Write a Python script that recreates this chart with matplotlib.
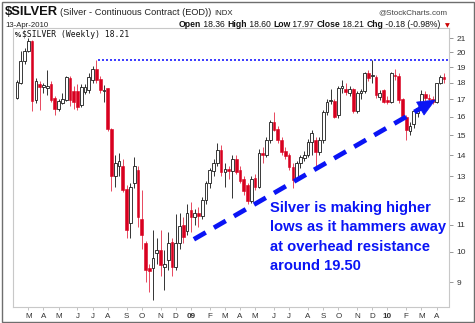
import numpy as np
import pandas as pd
import matplotlib
matplotlib.use('Agg')
import matplotlib.pyplot as plt
from matplotlib.patches import Rectangle, Polygon
from matplotlib.transforms import IdentityTransform

plt.rcParams['font.family'] = ['Liberation Sans', 'DejaVu Sans']

# ---------------- data (weekly OHLC, $SILVER) ----------------
week_fridays = pd.date_range('2008-02-15', periods=114, freq='W-FRI')

opens = [17.10, 18.00, 19.40, 20.10, 20.80, 16.95, 17.90, 17.75, 17.70, 17.95,
         17.10, 16.45, 16.80, 16.95, 18.30, 17.50, 17.50, 16.65, 17.45, 17.55,
         18.15, 18.90, 18.25, 17.50, 17.65, 15.35, 13.00, 13.50, 13.50, 12.45,
         11.05, 12.70, 13.30, 11.20, 10.30, 9.45, 9.45, 9.95, 10.07, 9.50,
         9.73, 10.35, 9.50, 10.30, 10.97, 10.75, 11.55, 11.30, 11.45, 11.35,
         11.98, 12.69, 13.24, 13.61, 14.25, 13.20, 13.35, 13.25, 13.80, 13.30,
         12.90, 12.60, 11.95, 12.95, 12.55, 14.10, 14.00, 14.75, 15.70, 15.35,
         14.75, 14.20, 14.00, 13.45, 12.85, 13.60, 13.85, 14.00, 14.65, 14.75,
         14.17, 14.75, 16.28, 16.90, 16.90, 16.10, 17.70, 17.60, 17.40, 17.60,
         16.30, 17.40, 17.50, 18.60, 18.40, 18.38, 17.15, 17.55, 16.95, 16.85,
         18.50, 18.40, 17.00, 16.00, 15.20, 15.60, 16.20, 16.50, 17.30, 17.10,
         17.00, 16.85, 17.96, 18.36]
highs = [18.20, 20.10, 20.30, 21.00, 20.90, 18.30, 18.10, 18.00, 18.80, 18.10,
         17.20, 17.00, 17.40, 18.45, 18.40, 17.80, 17.90, 17.90, 17.95, 18.60,
         19.10, 19.45, 18.40, 17.85, 17.70, 15.40, 14.00, 14.10, 13.80, 12.60,
         12.70, 13.90, 13.50, 12.40, 10.40, 9.60, 10.80, 10.50, 10.80, 10.07,
         10.70, 10.50, 11.40, 11.45, 11.30, 11.80, 11.90, 11.60, 11.70, 12.10,
         12.80, 13.40, 13.80, 14.60, 14.50, 13.60, 13.50, 14.00, 14.00, 13.50,
         13.00, 12.70, 13.00, 13.10, 14.30, 14.40, 14.90, 15.80, 16.25, 15.50,
         14.90, 14.40, 14.10, 13.60, 13.70, 14.00, 14.20, 14.80, 15.27, 14.90,
         14.90, 16.40, 17.00, 17.60, 17.00, 17.80, 18.20, 18.00, 17.80, 17.70,
         17.50, 17.60, 18.70, 18.80, 19.45, 18.50, 17.55, 17.60, 17.20, 18.70,
         18.90, 18.60, 17.10, 16.10, 15.70, 16.40, 16.60, 17.55, 17.50, 17.30,
         17.20, 18.00, 18.50, 18.60]
lows = [17.00, 17.90, 19.20, 20.00, 16.30, 16.80, 16.40, 17.40, 17.25, 16.85,
        16.10, 16.30, 16.70, 16.90, 16.60, 16.45, 16.40, 16.55, 17.30, 17.40,
        18.00, 18.00, 17.40, 16.85, 15.20, 12.35, 12.55, 13.00, 12.30, 10.50,
        10.50, 12.50, 10.90, 10.10, 9.00, 8.70, 8.45, 9.60, 9.20, 8.76,
        9.40, 9.20, 9.40, 10.10, 10.30, 10.60, 10.70, 11.00, 10.90, 11.20,
        11.80, 12.50, 13.00, 13.50, 13.00, 12.55, 12.90, 12.05, 13.10, 12.70,
        12.20, 11.80, 11.85, 12.40, 12.50, 13.60, 13.90, 14.60, 15.20, 14.60,
        14.00, 13.80, 13.30, 12.50, 12.80, 13.40, 13.70, 13.90, 14.00, 13.50,
        14.00, 14.60, 16.10, 16.70, 15.90, 15.90, 17.40, 17.25, 17.20, 16.20,
        16.20, 17.00, 17.40, 18.10, 18.00, 17.05, 16.95, 16.75, 16.70, 16.80,
        18.20, 16.80, 15.95, 14.75, 15.00, 15.40, 16.00, 16.40, 16.90, 16.85,
        16.70, 16.80, 17.90, 17.97]
closes = [18.05, 19.40, 20.10, 20.80, 16.90, 18.10, 17.75, 17.85, 17.80, 16.95,
          16.45, 16.90, 17.00, 18.35, 16.95, 16.85, 16.55, 17.75, 17.75, 18.35,
          18.90, 18.15, 17.55, 17.55, 15.35, 13.00, 13.60, 13.70, 12.40, 10.80,
          12.55, 13.50, 11.30, 10.60, 9.40, 9.35, 9.80, 10.07, 9.55, 9.58,
          10.30, 9.50, 10.30, 10.95, 10.55, 11.45, 11.30, 11.45, 11.35, 11.98,
          12.69, 13.29, 13.61, 14.25, 13.20, 13.35, 13.25, 13.80, 13.20, 12.80,
          12.35, 11.95, 12.90, 12.55, 14.10, 14.00, 14.75, 15.70, 15.27, 14.75,
          14.17, 13.95, 13.45, 12.85, 13.60, 13.90, 14.00, 14.66, 15.10, 14.17,
          14.75, 16.28, 16.85, 16.95, 16.00, 17.70, 17.80, 17.45, 17.60, 16.30,
          17.40, 17.50, 18.59, 18.30, 18.50, 17.25, 17.35, 16.85, 16.85, 18.59,
          18.40, 16.95, 16.05, 15.27, 15.50, 16.30, 16.50, 17.30, 17.10, 17.00,
          16.85, 17.96, 18.39, 18.21]

y_ticks = [9, 10, 11, 12, 13, 14, 15, 16, 17, 18, 19, 20, 21]
resistance_level = 19.45
resistance_start = 21.3          # week index where dotted line starts
trend_x = [46.8, 110.6]          # week index of trend arrow ends
trend_y = [10.45, 16.95]         # price at trend arrow ends

header_title = "$SILVER"
header_sub = "(Silver - Continuous Contract (EOD))"
header_exch = "INDX"
header_date = "13-Apr-2010"
header_quote = [("Open", True), (" 18.36 ", False), ("High", True), (" 18.60 ", False),
                ("Low", True), (" 17.97 ", False), ("Close", True), (" 18.21 ", False),
                ("Chg", True), (" -0.18 (-0.98%) ", False)]
annotation = "Silver is making higher\nlows as it hammers away\nat overhead resistance\naround 19.50"

# ---------------- figure ----------------
W, H = 475, 323
fig = plt.figure(figsize=(W / 100, H / 100), dpi=100)
fig.patch.set_facecolor('white')

L, R, T, B = 13, 449, 28, 307
ax = fig.add_axes([L / W, 1 - B / H, (R - L) / W, (B - T) / H])
ax.set_yscale('log')
n = len(opens)
x = np.arange(n)
o = np.array(opens); h = np.array(highs); l = np.array(lows); c = np.array(closes)
up = c >= o

RED = '#d8001f'
EDGE = '#1a1a1a'
# wicks
ax.vlines(x[up], l[up], h[up], color='#333333', lw=0.7, zorder=2)
ax.vlines(x[~up], l[~up], h[~up], color='#e8485e', lw=0.7, zorder=2)
# bodies
bw = 0.72
bot = np.minimum(o, c)
top = np.maximum(o, c)
ht = np.maximum(top - bot, 0.04)
ax.bar(x[up], ht[up], bottom=bot[up], width=bw, facecolor='white', edgecolor=EDGE,
       linewidth=0.6, zorder=3)
ax.bar(x[~up], ht[~up], bottom=bot[~up], width=bw, facecolor=RED, edgecolor=RED,
       linewidth=0.4, zorder=3)

ax.set_xlim(-1.06, n - 1 + 1.3)
ax.set_ylim(8.26, 21.77)

# resistance line
ax.hlines(resistance_level, resistance_start, n + 5, colors='#1a1aff', lw=1.2,
          linestyles=(0, (1.2, 1.2)), zorder=4)

# trend arrow: dashed shaft + solid triangular head (head built in pixel space)
BLUE = '#0a14f5'
p0 = ax.transData.transform((trend_x[0], trend_y[0]))
p1 = ax.transData.transform((trend_x[1], trend_y[1]))
d = (p1 - p0) / np.hypot(*(p1 - p0))
perp = np.array([-d[1], d[0]])
head_len, head_half = 17.0, 7.5
base = p1 - d * head_len
shaft_end = ax.transData.inverted().transform(base + d * 2)
ax.plot([trend_x[0], shaft_end[0]], [trend_y[0], shaft_end[1]], color=BLUE, lw=3.4,
        dashes=(2.9, 2.0), solid_capstyle='butt', dash_capstyle='butt', zorder=5)
head = Polygon([p1, base + perp * head_half, base - perp * head_half], closed=True,
               transform=IdentityTransform(), facecolor=BLUE, edgecolor=BLUE, lw=0.5,
               zorder=5)
fig.add_artist(head)

# annotation text
ax.text(270 / W, 1 - 201 / H, annotation, transform=fig.transFigure, color=BLUE,
        fontsize=10.6, fontweight='bold', ha='left', va='top',
        linespacing=1.5, zorder=6)

# axes styling
ax.yaxis.tick_right()
ax.yaxis.set_minor_locator(matplotlib.ticker.NullLocator())
ax.set_yticks(y_ticks)
ax.set_yticklabels([str(v) for v in y_ticks])
ax.tick_params(axis='y', which='major', length=3, width=0.6, color='#888888',
               labelsize=6, labelcolor='#333333', pad=2.5)

# month ticks at first bar of each month
months = week_fridays.month
years = week_fridays.year
pos, labs = [], []
for i in range(1, n):
    if months[i] != months[i - 1]:
        pos.append(i)
        if months[i] == 1:
            labs.append(str(years[i])[2:])
        else:
            labs.append(week_fridays[i].strftime('%b')[0])
ax.set_xticks(pos)
ax.set_xticklabels(labs)
for t in ax.get_xticklabels():
    if t.get_text().isdigit():
        t.set_fontweight('bold')
ax.tick_params(axis='x', length=2, width=0.5, color='#aaaaaa', labelsize=5.8,
               labelcolor='#333333', pad=2.5)
for s in ax.spines.values():
    s.set_color('#c8c8c8')
    s.set_linewidth(0.8)
ax.spines['bottom'].set_linestyle((0, (1.5, 1.0)))

# outer frame
fig.patches.append(Rectangle((1.5 / W, 1.5 / H), (W - 3) / W, (H - 3) / H,
                             transform=fig.transFigure, fill=False,
                             edgecolor='#6e6e6e', lw=1.0))

# header texts
renderer = fig.canvas.get_renderer()


def fx(px):
    return px / W


def fy(py):
    return 1 - py / H


t1 = fig.text(fx(5), fy(15), header_title, fontsize=9.4, fontweight='bold', color='#111111')
bb = t1.get_window_extent(renderer)
t2 = fig.text(fx(5) + bb.width / W + 2 / W, fy(15), header_sub, fontsize=6.7, color='#222222')
bb2 = t2.get_window_extent(renderer)
fig.text((bb2.x1 + 3) / W, fy(15), header_exch, fontsize=5.6, color='#222222')
fig.text(fx(447), fy(14), '@StockCharts.com', fontsize=5.8, color='#444444', ha='right')
fig.text(fx(5), fy(27), header_date, fontsize=5.6, color='#222222')

# quote line, right aligned to x=443
pieces = []
for txt, bold in header_quote:
    tt = fig.text(0, fy(27), txt, fontsize=6.2,
                  fontweight='bold' if bold else 'normal', color='#111111')
    pieces.append(tt)
xend = 443
widths = [p.get_window_extent(renderer).width for p in pieces]
xc = xend - sum(widths)
for p, wdt in zip(pieces, widths):
    p.set_x(xc / W)
    xc += wdt
fig.text(fx(445), fy(27), '\u25BC', fontsize=4.5, color='#cc0000',
         family=['DejaVu Sans'])

# inside-chart label
fig.text(fx(22), fy(37), '$SILVER (Weekly) 18.21', fontsize=5.8, color='#111111',
         family=['DejaVu Sans Mono'])
fig.text(fx(15), fy(37), '%', fontsize=5, color='#111111', fontweight='bold')

fig.savefig('out.png', dpi=100, facecolor='white')
